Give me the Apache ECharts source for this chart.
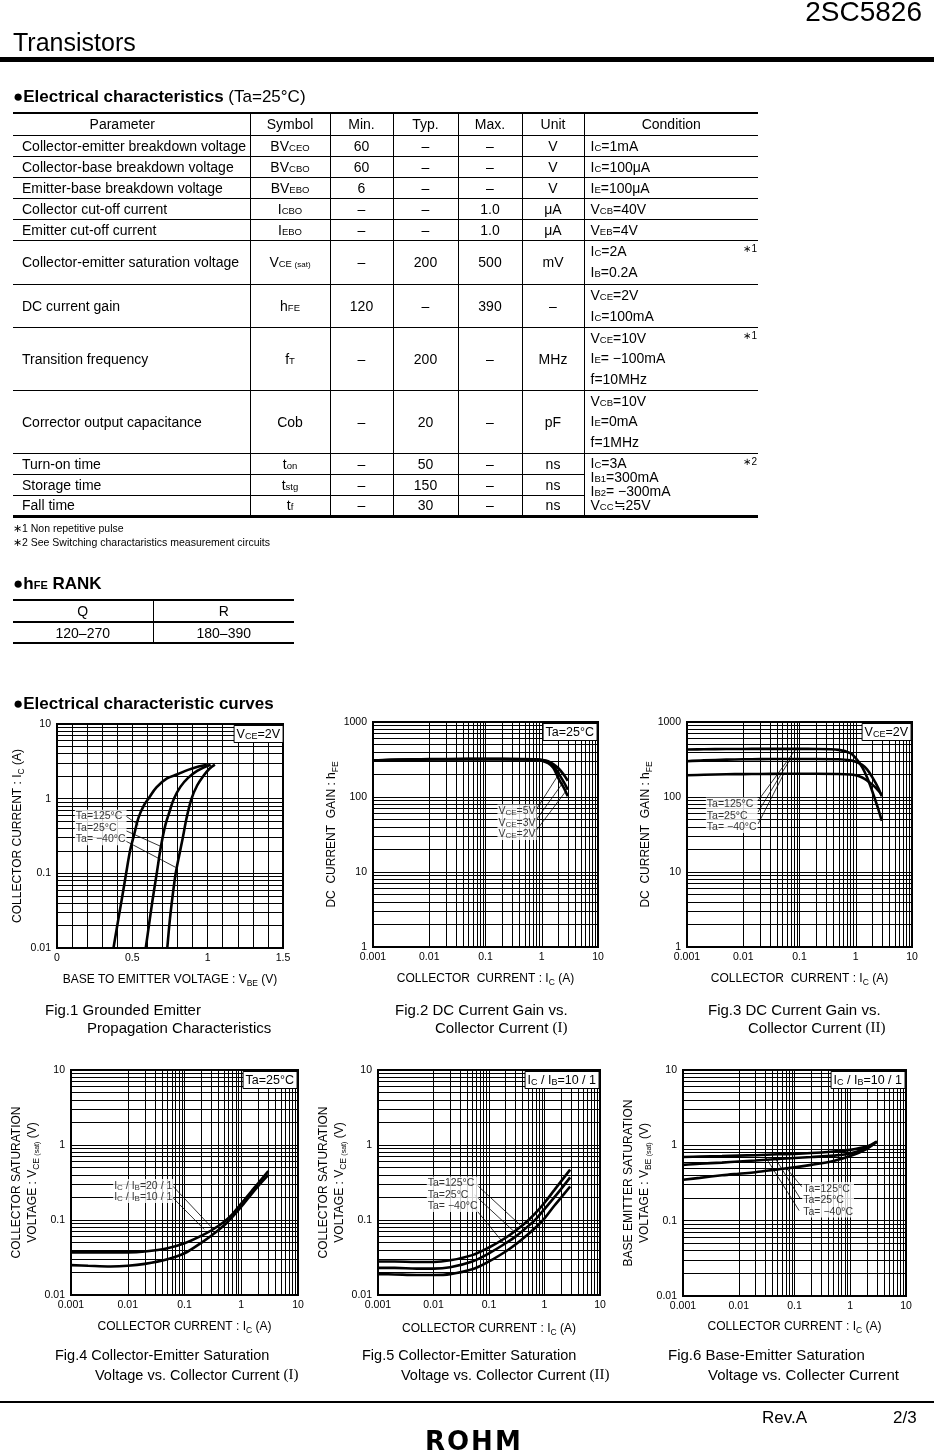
<!DOCTYPE html>
<html>
<head>
<meta charset="utf-8">
<script src="https://cdn.jsdelivr.net/npm/echarts@6/dist/echarts.min.js"></script>
<style>
html,body{margin:0;padding:0;background:#fff;}
body{width:934px;height:1451px;position:relative;overflow:hidden;font-family:"Liberation Sans",Arial,sans-serif;color:#000;}
#chart{position:absolute;left:0;top:0;width:934px;height:1451px;}
.t{position:absolute;line-height:1;white-space:nowrap;}
.bar{position:absolute;background:#000;}
.sub{font-size:9.5px;line-height:0;}
.sub2{font-size:8px;line-height:0;}
.tb{position:absolute;border-collapse:collapse;table-layout:fixed;font-size:14px;}
.tb td{padding:0;border-top:1px solid #000;border-left:1px solid #000;text-align:center;vertical-align:middle;line-height:1;white-space:nowrap;position:relative;}
.tb tr:first-child td{border-top:2px solid #000;}
.tb tr.last td,.tb td.lastc{border-bottom:3px solid #000;}
.tb td:first-child{border-left:none;text-align:left;padding-left:9px;}
.tb td.hp{text-align:center;padding-left:0;padding-right:18px;}
.tb td.c{text-align:left;padding-left:6px;}
.st{position:absolute;right:1px;top:3px;font-size:10px;line-height:1;}
.tb2{position:absolute;border-collapse:collapse;table-layout:fixed;font-size:14px;}
.tb2 td{padding:0;border-top:2px solid #000;border-bottom:2px solid #000;border-left:1px solid #000;text-align:center;vertical-align:middle;line-height:1;}
.tb2 td:first-child{border-left:none;}
</style>
</head>
<body>
<div id="chart"></div>

<div class="t" style="right:12px;top:-2px;font-size:28px;">2SC5826</div>
<div class="t" style="left:13px;top:30px;font-size:25px;">Transistors</div>
<div class="bar" style="left:0;top:57px;width:934px;height:5px;"></div>

<div class="t" style="left:13px;top:88px;font-size:17px;"><b>●Electrical characteristics</b> (Ta=25°C)</div>

<table class="tb" style="left:13px;top:112px;width:745px;">
<colgroup><col style="width:237px"><col style="width:80px"><col style="width:63px"><col style="width:65px"><col style="width:64px"><col style="width:62px"><col style="width:174px"></colgroup>
<tr style="height:22px"><td class="hp">Parameter</td><td>Symbol</td><td>Min.</td><td>Typ.</td><td>Max.</td><td>Unit</td><td>Condition</td></tr>
<tr style="height:21px"><td>Collector-emitter breakdown voltage</td><td>BV<span class="sub">CEO</span></td><td>60</td><td>–</td><td>–</td><td>V</td><td class="c">I<span class="sub">C</span>=1mA</td></tr>
<tr style="height:21px"><td>Collector-base breakdown voltage</td><td>BV<span class="sub">CBO</span></td><td>60</td><td>–</td><td>–</td><td>V</td><td class="c">I<span class="sub">C</span>=100μA</td></tr>
<tr style="height:21px"><td>Emitter-base breakdown voltage</td><td>BV<span class="sub">EBO</span></td><td>6</td><td>–</td><td>–</td><td>V</td><td class="c">I<span class="sub">E</span>=100μA</td></tr>
<tr style="height:21px"><td>Collector cut-off current</td><td>I<span class="sub">CBO</span></td><td>–</td><td>–</td><td>1.0</td><td>μA</td><td class="c">V<span class="sub">CB</span>=40V</td></tr>
<tr style="height:21px"><td>Emitter cut-off current</td><td>I<span class="sub">EBO</span></td><td>–</td><td>–</td><td>1.0</td><td>μA</td><td class="c">V<span class="sub">EB</span>=4V</td></tr>
<tr style="height:44px"><td>Collector-emitter saturation voltage</td><td>V<span class="sub">CE <span class="sub2">(sat)</span></span></td><td>–</td><td>200</td><td>500</td><td>mV</td><td class="c"><div style="line-height:21px">I<span class="sub">C</span>=2A<br>I<span class="sub">B</span>=0.2A</div><span class="st">∗1</span></td></tr>
<tr style="height:42px"><td>DC current gain</td><td>h<span class="sub">FE</span></td><td>120</td><td>–</td><td>390</td><td>–</td><td class="c"><div style="line-height:21px">V<span class="sub">CE</span>=2V<br>I<span class="sub">C</span>=100mA</div></td></tr>
<tr style="height:62px"><td>Transition frequency</td><td>f<span class="sub">T</span></td><td>–</td><td>200</td><td>–</td><td>MHz</td><td class="c"><div style="line-height:20.7px">V<span class="sub">CE</span>=10V<br>I<span class="sub">E</span>= −100mA<br>f=10MHz</div><span class="st">∗1</span></td></tr>
<tr style="height:62px"><td>Corrector output capacitance</td><td>Cob</td><td>–</td><td>20</td><td>–</td><td>pF</td><td class="c"><div style="line-height:20.7px">V<span class="sub">CB</span>=10V<br>I<span class="sub">E</span>=0mA<br>f=1MHz</div></td></tr>
<tr style="height:21px"><td>Turn-on time</td><td>t<span class="sub">on</span></td><td>–</td><td>50</td><td>–</td><td>ns</td><td class="c lastc" rowspan="3"><div style="line-height:14px">I<span class="sub">C</span>=3A<br>I<span class="sub">B1</span>=300mA<br>I<span class="sub">B2</span>= −300mA<br>V<span class="sub">CC</span>≒25V</div><span class="st">∗2</span></td></tr>
<tr style="height:21px"><td>Storage time</td><td>t<span class="sub">stg</span></td><td>–</td><td>150</td><td>–</td><td>ns</td></tr>
<tr class="last" style="height:21px"><td>Fall time</td><td>t<span class="sub">f</span></td><td>–</td><td>30</td><td>–</td><td>ns</td></tr>
</table>

<div class="t" style="left:13px;top:523px;font-size:10.5px;">∗1 Non repetitive pulse</div>
<div class="t" style="left:13px;top:537px;font-size:10.5px;">∗2 See Switching charactaristics measurement circuits</div>

<div class="t" style="left:13px;top:575px;font-size:17px;font-weight:bold;">●h<span style="font-size:11px">FE</span> RANK</div>
<table class="tb2" style="left:13px;top:599px;width:281px;">
<colgroup><col style="width:140px"><col style="width:141px"></colgroup>
<tr style="height:22px"><td>Q</td><td>R</td></tr>
<tr style="height:21px"><td>120–270</td><td>180–390</td></tr>
</table>

<div class="t" style="left:13px;top:695px;font-size:17px;font-weight:bold;">●Electrical characteristic curves</div>

<div class="bar" style="left:0;top:1401px;width:934px;height:2px;"></div>
<div class="t" style="left:762px;top:1409px;font-size:17px;">Rev.A</div>
<div class="t" style="left:893px;top:1409px;font-size:17px;">2/3</div>
<div class="t" style="left:425px;top:1428px;font-size:26px;font-weight:900;letter-spacing:2px;font-family:'DejaVu Sans',sans-serif;">ROHM</div>

<script>
var FONT = '"Liberation Sans", Arial, sans-serif';
var SERIF = '"Liberation Serif", "Times New Roman", serif';

// Fig.1  Ic vs Vbe (Vce=2V)
var fig1_vbe_125 = [0.375, 0.40, 0.43, 0.459, 0.485, 0.515, 0.54, 0.575, 0.61, 0.66, 0.73, 0.80, 0.87, 0.94, 0.995];
var fig1_ic_125  = [0.01, 0.02, 0.045, 0.1, 0.2, 0.35, 0.55, 0.8, 1.02, 1.42, 1.87, 2.12, 2.43, 2.69, 2.85];
var fig1_vbe_25  = [0.589, 0.61, 0.635, 0.662, 0.69, 0.72, 0.75, 0.776, 0.82, 0.87, 0.93, 0.98, 1.02];
var fig1_ic_25   = [0.01, 0.02, 0.045, 0.1, 0.23, 0.45, 0.7, 1.0, 1.45, 1.9, 2.35, 2.65, 2.85];
var fig1_vbe_m40 = [0.732, 0.75, 0.77, 0.788, 0.81, 0.835, 0.86, 0.893, 0.93, 0.97, 1.01, 1.048];
var fig1_ic_m40  = [0.01, 0.025, 0.055, 0.1, 0.17, 0.3, 0.55, 1.0, 1.5, 2.0, 2.5, 2.85];

// Fig.2  hFE vs Ic (Ta=25C)
var fig2_ic     = [0.001, 0.002, 0.005, 0.01, 0.02, 0.05, 0.1, 0.2, 0.5, 0.8, 1, 1.3, 1.6, 2, 2.5, 2.9];
var fig2_hfe_5v = [308, 314, 318, 320, 321, 322, 322, 322, 321, 318, 313, 300, 275, 240, 195, 165];
var fig2_hfe_3v = [306, 312, 316, 318, 319, 320, 320, 320, 319, 315, 309, 292, 262, 205, 155, 125];
var fig2_hfe_2v = [304, 310, 314, 316, 317, 318, 318, 318, 317, 312, 304, 282, 245, 175, 130, 102];

// Fig.3  hFE vs Ic (Vce=2V)
var fig3_ic      = [0.001, 0.002, 0.005, 0.01, 0.02, 0.05, 0.1, 0.2, 0.5, 0.8, 1, 1.3, 1.6, 2, 2.5, 2.9];
var fig3_hfe_125 = [430, 433, 436, 437, 438, 438, 438, 437, 425, 385, 330, 250, 180, 115, 70, 48];
var fig3_hfe_25  = [300, 308, 315, 318, 320, 321, 321, 321, 318, 308, 295, 268, 232, 180, 133, 102];
var fig3_hfe_m40 = [195, 198, 201, 202, 203, 204, 204, 204, 203, 200, 195, 182, 165, 145, 123, 107];

// Fig.4  Vce(sat) vs Ic (Ta=25C)
var fig4_ic     = [0.001, 0.002, 0.005, 0.01, 0.02, 0.05, 0.1, 0.2, 0.3, 0.5, 0.7, 1, 1.5, 2, 3];
var fig4_vce_20 = [0.037, 0.037, 0.037, 0.037, 0.038, 0.042, 0.049, 0.062, 0.073, 0.095, 0.12, 0.165, 0.24, 0.31, 0.45];
var fig4_vce_10 = [0.025, 0.0245, 0.024, 0.0245, 0.026, 0.030, 0.036, 0.05, 0.062, 0.085, 0.11, 0.15, 0.22, 0.285, 0.40];

// Fig.5  Vce(sat) vs Ic (Ic/Ib=10)
var fig5_ic      = [0.001, 0.002, 0.005, 0.01, 0.02, 0.05, 0.1, 0.2, 0.3, 0.5, 0.7, 1, 1.5, 2, 2.9];
var fig5_vce_125 = [0.028, 0.028, 0.0275, 0.0275, 0.029, 0.034, 0.043, 0.058, 0.072, 0.098, 0.125, 0.17, 0.25, 0.33, 0.47];
var fig5_vce_25  = [0.023, 0.023, 0.0225, 0.0225, 0.0235, 0.028, 0.036, 0.049, 0.06, 0.082, 0.103, 0.14, 0.2, 0.26, 0.37];
var fig5_vce_m40 = [0.019, 0.0188, 0.0185, 0.0185, 0.019, 0.022, 0.028, 0.038, 0.047, 0.064, 0.08, 0.105, 0.155, 0.2, 0.28];

// Fig.6  Vbe(sat) vs Ic (Ic/Ib=10)
var fig6_ic      = [0.001, 0.002, 0.005, 0.01, 0.02, 0.05, 0.1, 0.2, 0.5, 1, 2, 3];
var fig6_vbe_m40 = [0.70, 0.71, 0.72, 0.73, 0.74, 0.76, 0.77, 0.79, 0.83, 0.87, 0.97, 1.12];
var fig6_vbe_25  = [0.55, 0.57, 0.59, 0.61, 0.63, 0.66, 0.68, 0.70, 0.73, 0.78, 0.93, 1.12];
var fig6_vbe_125 = [0.35, 0.37, 0.40, 0.42, 0.44, 0.48, 0.51, 0.55, 0.62, 0.72, 0.90, 1.12];

// annotation anchors (data coords) and leader lines
var fig1_note = [0.115, 0.41];
var fig1_leaders = [[[0.446, 0.607], [0.540, 0.446]], [[0.459, 0.371], [0.690, 0.229]], [[0.454, 0.272], [0.788, 0.12]]];
var fig2_note = [0.16, 46];
var fig2_leaders = [[[0.76, 64], [2.2, 225]], [[0.76, 47], [2.45, 160]], [[0.76, 34], [2.65, 118]]];
var fig3_note = [0.00212, 57];
var fig3_leaders = [[[0.0183, 89], [0.0867, 437]], [[0.0183, 63], [0.0687, 321]], [[0.0183, 43.6], [0.0524, 203]]];
var fig4_note = [0.00543, 0.244];
var fig4_leaders = [[[0.0597, 0.293], [0.292, 0.0815]], [[0.0558, 0.216], [0.222, 0.075]]];
var fig5_note = [0.00741, 0.22];
var fig5_leaders = [[[0.058, 0.302], [0.364, 0.0858]], [[0.0548, 0.216], [0.284, 0.070]], [[0.0526, 0.151], [0.195, 0.0464]]];
var fig6_note = [0.135, 0.19];
var fig6_leaders = [[[0.135, 0.282], [0.073, 0.49]], [[0.126, 0.198], [0.047, 0.64]], [[0.121, 0.136], [0.0286, 0.745]]];

var decadeSteps = [1, 2, 3, 4, 5, 6, 7, 8, 9];
var fig1_vgrid = [0.1, 0.2, 0.3, 0.4, 0.5, 0.6, 0.7, 0.8, 0.9, 1.0, 1.1, 1.2, 1.3, 1.4];

function logLines(min, max) {
    var out = [];
    for (var d = min; d < max * 0.999; d *= 10) {
        decadeSteps.forEach(function(k) {
            var v = d * k;
            if (v > min * 1.001 && v < max * 0.999) out.push(v);
        });
    }
    return out;
}

function fmtLog(v) {
    var e = Math.round(Math.log10(v));
    return e < 0 ? Number(v).toFixed(-e) : String(Math.round(v));
}

function pairs(xs, ys) {
    return xs.map(function(x, i) { return [x, ys[i]]; });
}

var nameRich = {
    s: {fontSize: 8.5, fontFamily: FONT, color: '#000', verticalAlign: 'bottom'},
    ss: {fontSize: 7, fontFamily: FONT, color: '#000', verticalAlign: 'bottom'}
};

function mkAxis(i, type, min, max, name, gap, isY, extra) {
    var a = {
        gridIndex: i, type: type, min: min, max: max,
        name: name, nameLocation: 'middle', nameGap: gap,
        nameTextStyle: {fontSize: 12, fontFamily: FONT, color: '#000', lineHeight: 16, rich: nameRich},
        axisLine: {show: false}, axisTick: {show: false}, splitLine: {show: false},
        axisLabel: {fontSize: 10.5, fontFamily: FONT, color: '#000', margin: isY ? 6 : 5}
    };
    if (isY) a.nameRotate = 90;
    if (type === 'log') { a.logBase = 10; a.axisLabel.formatter = fmtLog; }
    if (extra) Object.keys(extra).forEach(function(k) { a[k] = extra[k]; });
    return a;
}

function gridLines(i, xs, ys) {
    return {
        type: 'line', xAxisIndex: i, yAxisIndex: i, data: [], silent: true, z: 2,
        markLine: {
            silent: true, symbol: 'none', animation: false,
            label: {show: false},
            lineStyle: {color: '#000', width: 1, type: 'solid'},
            emphasis: {disabled: true},
            data: xs.map(function(v) { return {xAxis: v}; }).concat(ys.map(function(v) { return {yAxis: v}; }))
        }
    };
}

function curve(i, xs, ys) {
    return {
        type: 'line', xAxisIndex: i, yAxisIndex: i, data: pairs(xs, ys),
        symbol: 'none', showSymbol: false, smooth: 0.35, silent: true, z: 3,
        lineStyle: {color: '#000', width: 2.6}
    };
}

function leaders(i, list) {
    return list.map(function(seg) {
        return {
            type: 'line', xAxisIndex: i, yAxisIndex: i, data: seg,
            symbol: 'none', showSymbol: false, silent: true, z: 4,
            lineStyle: {color: '#000', width: 0.8}
        };
    });
}

var noteRich = {s: {fontSize: 8, fontFamily: FONT, color: '#000', verticalAlign: 'bottom'}};

function note(i, pos, text) {
    return {
        type: 'scatter', xAxisIndex: i, yAxisIndex: i, data: [pos],
        symbolSize: 1, itemStyle: {color: 'transparent'}, silent: true, z: 10,
        label: {
            show: true, position: 'right', distance: 0, formatter: text,
            fontSize: 10.5, lineHeight: 11.5, fontFamily: FONT, color: '#000',
            backgroundColor: '#fff', padding: [1, 1, 0, 1], rich: noteRich
        }
    };
}

function box(text, right, top) {
    return {
        text: text, right: right, top: top,
        backgroundColor: '#fff', borderColor: '#000', borderWidth: 1, padding: [3, 3, 2, 3],
        textStyle: {fontSize: 12.5, fontWeight: 'normal', fontFamily: FONT, color: '#000',
            rich: {s: {fontSize: 9, fontFamily: FONT, color: '#000', verticalAlign: 'bottom'}}}
    };
}

var capRich = {r: {fontSize: 15, fontFamily: SERIF, fill: '#000'}};
function caption(x, y, text, size) {
    return {
        type: 'text', left: x, top: y, silent: true,
        style: {text: text, fontSize: size || 15, fontFamily: FONT, fill: '#000', rich: capRich}
    };
}

var chart = echarts.init(document.getElementById('chart'), null, {renderer: 'canvas'});

var frame = {show: true, borderWidth: 2, borderColor: '#000', backgroundColor: 'transparent'};
function g(l, t, w, h) {
    return Object.assign({left: l, top: t, width: w, height: h}, frame);
}

var option = {
    animation: false,
    grid: [
        g(57, 724, 226, 224),
        g(373, 722, 225, 225),
        g(687, 722, 225, 225),
        g(71, 1070, 227, 225),
        g(378, 1070, 222, 225),
        g(683, 1070, 223, 226)
    ],
    xAxis: [
        mkAxis(0, 'value', 0, 1.5, 'BASE TO EMITTER VOLTAGE : V{s|BE} (V)', 24, false, {interval: 0.5}),
        mkAxis(1, 'log', 0.001, 10, 'COLLECTOR  CURRENT : I{s|C} (A)', 24, false),
        mkAxis(2, 'log', 0.001, 10, 'COLLECTOR  CURRENT : I{s|C} (A)', 24, false),
        mkAxis(3, 'log', 0.001, 10, 'COLLECTOR CURRENT : I{s|C} (A)', 24, false),
        mkAxis(4, 'log', 0.001, 10, 'COLLECTOR CURRENT : I{s|C} (A)', 26, false),
        mkAxis(5, 'log', 0.001, 10, 'COLLECTOR CURRENT : I{s|C} (A)', 23, false)
    ],
    yAxis: [
        mkAxis(0, 'log', 0.01, 10, 'COLLECTOR CURRENT : I{s|C} (A)', 31, true),
        mkAxis(1, 'log', 1, 1000, 'DC  CURRENT  GAIN : h{s|FE}', 27, true),
        mkAxis(2, 'log', 1, 1000, 'DC  CURRENT  GAIN : h{s|FE}', 27, true),
        mkAxis(3, 'log', 0.01, 10, 'COLLECTOR SATURATION\nVOLTAGE : V{s|CE }{ss|(sat)} (V)', 29, true),
        mkAxis(4, 'log', 0.01, 10, 'COLLECTOR SATURATION\nVOLTAGE : V{s|CE }{ss|(sat)} (V)', 27, true),
        mkAxis(5, 'log', 0.01, 10, 'BASE EMITTER SATURATION\nVOLTAGE : V{s|BE }{ss|(sat)} (V)', 29, true)
    ],
    title: [
        box('V{s|CE}=2V', 651, 725),
        box('Ta=25°C', 337, 723),
        box('V{s|CE}=2V', 23, 723),
        box('Ta=25°C', 637, 1071),
        box('I{s|C} / I{s|B}=10 / 1', 335, 1071),
        box('I{s|C} / I{s|B}=10 / 1', 29, 1071)
    ],
    graphic: [
        caption(45, 1003, 'Fig.1 Grounded Emitter'),
        caption(87, 1021, 'Propagation Characteristics'),
        caption(395, 1003, 'Fig.2 DC Current Gain vs.'),
        caption(435, 1021, 'Collector Current {r|(I)}'),
        caption(708, 1003, 'Fig.3 DC Current Gain vs.'),
        caption(748, 1021, 'Collector Current {r|(II)}'),
        caption(55, 1348, 'Fig.4 Collector-Emitter Saturation', 14.5),
        caption(95, 1368, 'Voltage vs. Collector Current {r|(I)}', 14.5),
        caption(362, 1348, 'Fig.5 Collector-Emitter Saturation', 14.5),
        caption(401, 1368, 'Voltage vs. Collector Current {r|(II)}', 14.5),
        caption(668, 1348, 'Fig.6 Base-Emitter Saturation'),
        caption(708, 1368, 'Voltage vs. Collecter Current')
    ],
    series: [].concat(
        [gridLines(0, fig1_vgrid, logLines(0.01, 10)),
         gridLines(1, logLines(0.001, 10), logLines(1, 1000)),
         gridLines(2, logLines(0.001, 10), logLines(1, 1000)),
         gridLines(3, logLines(0.001, 10), logLines(0.01, 10)),
         gridLines(4, logLines(0.001, 10), logLines(0.01, 10)),
         gridLines(5, logLines(0.001, 10), logLines(0.01, 10))],

        [curve(0, fig1_vbe_125, fig1_ic_125), curve(0, fig1_vbe_25, fig1_ic_25), curve(0, fig1_vbe_m40, fig1_ic_m40)],
        leaders(0, fig1_leaders),
        [note(0, fig1_note, 'Ta=125°C\nTa=25°C\nTa= −40°C')],

        [curve(1, fig2_ic, fig2_hfe_5v), curve(1, fig2_ic, fig2_hfe_3v), curve(1, fig2_ic, fig2_hfe_2v)],
        leaders(1, fig2_leaders),
        [note(1, fig2_note, 'V{s|CE}=5V\nV{s|CE}=3V\nV{s|CE}=2V')],

        [curve(2, fig3_ic, fig3_hfe_125), curve(2, fig3_ic, fig3_hfe_25), curve(2, fig3_ic, fig3_hfe_m40)],
        leaders(2, fig3_leaders),
        [note(2, fig3_note, 'Ta=125°C\nTa=25°C\nTa= −40°C')],

        [curve(3, fig4_ic, fig4_vce_20), curve(3, fig4_ic, fig4_vce_10)],
        leaders(3, fig4_leaders),
        [note(3, fig4_note, 'I{s|C} / I{s|B}=20 / 1\nI{s|C} / I{s|B}=10 / 1')],

        [curve(4, fig5_ic, fig5_vce_125), curve(4, fig5_ic, fig5_vce_25), curve(4, fig5_ic, fig5_vce_m40)],
        leaders(4, fig5_leaders),
        [note(4, fig5_note, 'Ta=125°C\nTa=25°C\nTa= −40°C')],

        [curve(5, fig6_ic, fig6_vbe_m40), curve(5, fig6_ic, fig6_vbe_25), curve(5, fig6_ic, fig6_vbe_125)],
        leaders(5, fig6_leaders),
        [note(5, fig6_note, 'Ta=125°C\nTa=25°C\nTa= −40°C')]
    )
};

chart.setOption(option);
</script>
</body>
</html>
